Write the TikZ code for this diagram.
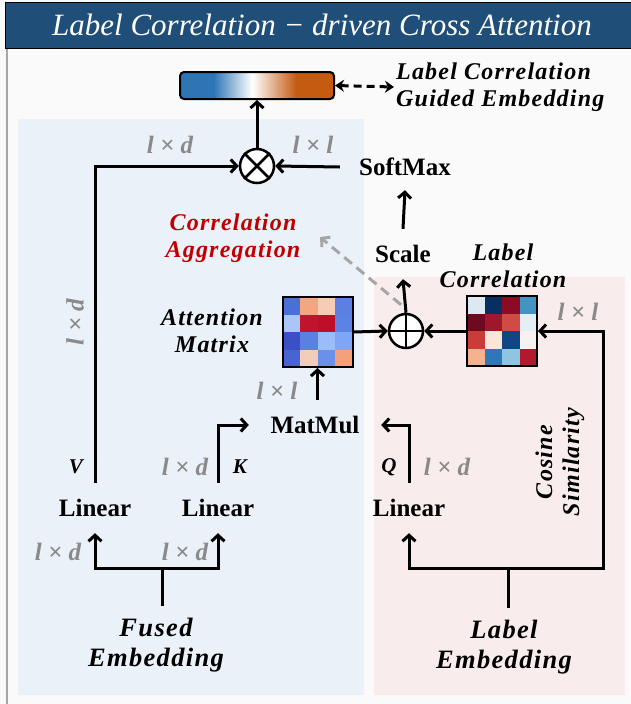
\documentclass[tikz,border=0pt]{standalone}
\usepackage{fontspec}
\setmainfont{Liberation Serif}
\newfontfamily\labfont{Liberation Serif}[LetterSpace=5]
\usetikzlibrary{arrows.meta,calc}
\definecolor{titlebg}{HTML}{1F4E79}
\definecolor{pagebg}{HTML}{FAFAFA}
\definecolor{framegray}{HTML}{A6A6A6}
\definecolor{bluebg}{HTML}{EAF1F9}
\definecolor{pinkbg}{HTML}{F9ECEC}
\definecolor{cblue}{HTML}{2E75B6}
\definecolor{corange}{HTML}{C55A11}
\definecolor{dimgray}{HTML}{8A8A8A}
\definecolor{aggred}{HTML}{C00000}
\definecolor{dashgray}{HTML}{A6A6A6}
% attention matrix cells
\definecolor{a1}{HTML}{4A6FD8}\definecolor{a2}{HTML}{F4A582}\definecolor{a3}{HTML}{F5CDB5}\definecolor{a4}{HTML}{5B80E2}
\definecolor{a5}{HTML}{AAC6F7}\definecolor{a6}{HTML}{C1132B}\definecolor{a7}{HTML}{BE0F28}\definecolor{a8}{HTML}{5C82E3}
\definecolor{a9}{HTML}{3B4FC6}\definecolor{a10}{HTML}{5B80E2}\definecolor{a11}{HTML}{9BBBF9}\definecolor{a12}{HTML}{7FA6F6}
\definecolor{a13}{HTML}{4863D2}\definecolor{a14}{HTML}{F3CDB9}\definecolor{a15}{HTML}{6A90EA}\definecolor{a16}{HTML}{F3A07B}
% label correlation cells
\definecolor{b1}{HTML}{DCE8F2}\definecolor{b2}{HTML}{053061}\definecolor{b3}{HTML}{8B0A25}\definecolor{b4}{HTML}{4393C3}
\definecolor{b5}{HTML}{6D0A1F}\definecolor{b6}{HTML}{A2162B}\definecolor{b7}{HTML}{CF4B43}\definecolor{b8}{HTML}{E6EDF5}
\definecolor{b9}{HTML}{C93C3A}\definecolor{b10}{HTML}{FBE4D8}\definecolor{b11}{HTML}{104683}\definecolor{b12}{HTML}{F8F1F1}
\definecolor{b13}{HTML}{F5B28F}\definecolor{b14}{HTML}{2E78BA}\definecolor{b15}{HTML}{8FC5E1}\definecolor{b16}{HTML}{B2192D}
\begin{document}
\begin{tikzpicture}[x=1pt,y=-1pt,
  opnode/.style={font=\fontsize{25}{28}\selectfont\bfseries, inner sep=0pt},
  lab/.style={font=\labfont\fontsize{24}{27}\selectfont\bfseries\itshape, align=center, inner sep=2pt},
  biglab/.style={font=\labfont\fontsize{26.5}{30}\selectfont\bfseries\itshape, align=center, inner sep=2pt},
  dim/.style={font=\fontsize{25}{28}\selectfont\bfseries\itshape, text=dimgray, inner sep=0pt},
  qkv/.style={font=\fontsize{21}{24}\selectfont\bfseries\itshape, inner sep=0pt},
  conn/.style={line width=3pt},
  arr/.style={conn, -{Straight Barb[length=6pt,width=13pt]}},
  opcircle/.style={circle, draw, line width=2.5pt, fill=white, minimum size=34pt, inner sep=0pt},
  heat/.style={draw, line width=2pt, minimum size=70pt, inner sep=0pt}
]
\useasboundingbox (0,0) rectangle (631,704);
\fill[pagebg] (0,0) rectangle (631,704);
\draw[framegray, line width=1.5pt, fill=pagebg] (7,40) rectangle (660,720);
\draw[black, line width=1pt, fill=titlebg] (5,2) rectangle (660,48);
\node[font=\fontsize{31}{34}\selectfont\itshape, text=white] (title) at (322,25) {Label Correlation − driven Cross Attention};

% regions
\fill[bluebg] (18,119) rectangle (364,695);
\fill[pinkbg] (374,277) rectangle (625,695);

% gradient embedding bar
\begin{scope}
\clip[rounded corners=4pt] (180,72) rectangle (334,99);
\fill[cblue] (180,72) rectangle (214,99);
\shade[left color=cblue, right color=white] (213.5,72) rectangle (252,99);
\shade[left color=white, right color=corange] (252,72) rectangle (296.5,99);
\fill[corange] (296,72) rectangle (334,99);
\end{scope}
\node[draw, line width=2pt, rounded corners=4pt, minimum width=154pt, minimum height=27pt, inner sep=0pt] (bar) at (257,85.5) {};
\node[lab, align=left, anchor=west] (lcge) at (394,87) {Label Correlation\\Guided Embedding};
\draw[line width=3pt, dash pattern=on 8pt off 5pt, {Stealth[length=9pt,width=12pt]}-{Stealth[length=9pt,width=12pt]}] (bar.east) -- (lcge.west);

% operators
\node[opcircle] (otimes) at (257,166) {};
\draw[line width=2.5pt] (otimes.north west) -- (otimes.south east) (otimes.north east) -- (otimes.south west);
\node[opcircle] (oplus) at (406,331) {};
\draw[line width=2.5pt] (oplus.north) -- (oplus.south) (oplus.west) -- (oplus.east);

\node[opnode, minimum width=130pt, minimum height=46pt] (softmax) at (405,167) {SoftMax};
\node[opnode, minimum height=50pt] (scale) at (403,254) {Scale};
\node[opnode, minimum width=132pt, minimum height=50pt] (matmul) at (315,425) {MatMul};
\node[opnode, minimum height=50pt] (linV) at (95,508) {Linear};
\node[opnode, minimum height=50pt] (linK) at (218,508) {Linear};
\node[opnode, minimum height=50pt] (linQ) at (409,508) {Linear};

% heatmaps
\foreach \r in {0,...,3} \foreach \c in {0,...,3} {
  \pgfmathtruncatemacro\k{\r*4+\c+1}
  \fill[fill=a\k] ({282.5+\c*17.5},{297+\r*17.5}) rectangle ++(17.5,17.5);
  \fill[fill=b\k] ({467+\c*17.5},{296+\r*17.5}) rectangle ++(17.5,17.5);
}
\node[heat] (am) at (317.5,332) {};
\node[heat] (lc) at (502,331) {};

% text labels
\node[lab, text=aggred] (agg) at (233,238) {Correlation\\Aggregation};
\node[lab] (attn) at (212,331) {Attention\\Matrix};
\node[lab] (lclab) at (503,266) {Label\\Correlation};
\node[lab, rotate=90] (cos) at (560,462) {Cosine\\Similarity};
\node[biglab] (fused) at (156,645) {Fused\\Embedding};
\node[biglab] (lemb) at (504,647) {Label\\Embedding};

% dimension labels
\node[dim] (d1) at (170,145) {l × d};
\node[dim] (d2) at (313,145) {l × l};
\node[dim, rotate=90] (d3) at (75,322) {l × d};
\node[dim] (d4) at (277,391) {l × l};
\node[dim] (d5) at (185,467) {l × d};
\node[dim] (d6) at (447,467) {l × d};
\node[dim] (d7) at (58,552) {l × d};
\node[dim] (d8) at (185,552) {l × d};
\node[dim] (d9) at (578,312) {l × l};
\node[qkv] (vlab) at (76,467) {V};
\node[qkv] (klab) at (240,467) {K};
\node[qkv] (qlab) at (389,467) {Q};

% connectors
\draw[arr] (otimes.north) -- (bar.south);
\draw[arr] (linV.north) |- (otimes.west);
\draw[arr] (softmax.west) -- (otimes.east);
\draw[arr] (scale.north) -- (softmax.south);
\draw[arr] (oplus.north) -- (scale.south);
\draw[arr] (am.east) -- (oplus.west);
\draw[arr] (lc.west) -- (oplus.east);
\draw[arr] (am.south |- matmul.north) -- (am.south);
\draw[arr] (linK.north) |- (matmul.west);
\draw[arr] (linQ.north) |- (matmul.east);

\coordinate (fj) at (162,568);
\draw[conn] ($(fused.north -| fj)+(0,-10)$) -- (fj);
\draw[arr] (fj) -| (linV.south);
\draw[arr] (fj) -| (linK.south);

\coordinate (lj) at (508,568);
\coordinate (cr) at (603,568);
\draw[conn] ($(lemb.north -| lj)+(0,-10)$) -- (lj);
\draw[arr] (lj) -| (linQ.south);
\draw[arr] (lj) -- (cr) |- (lc.east);

\coordinate (aggtip) at (320,237);
\draw[dashgray, line width=3pt, dash pattern=on 10pt off 6pt, -{Straight Barb[length=6pt,width=13pt]}] ($(oplus.north)+(-5,-8)$) -- (aggtip);
\end{tikzpicture}
\end{document}
